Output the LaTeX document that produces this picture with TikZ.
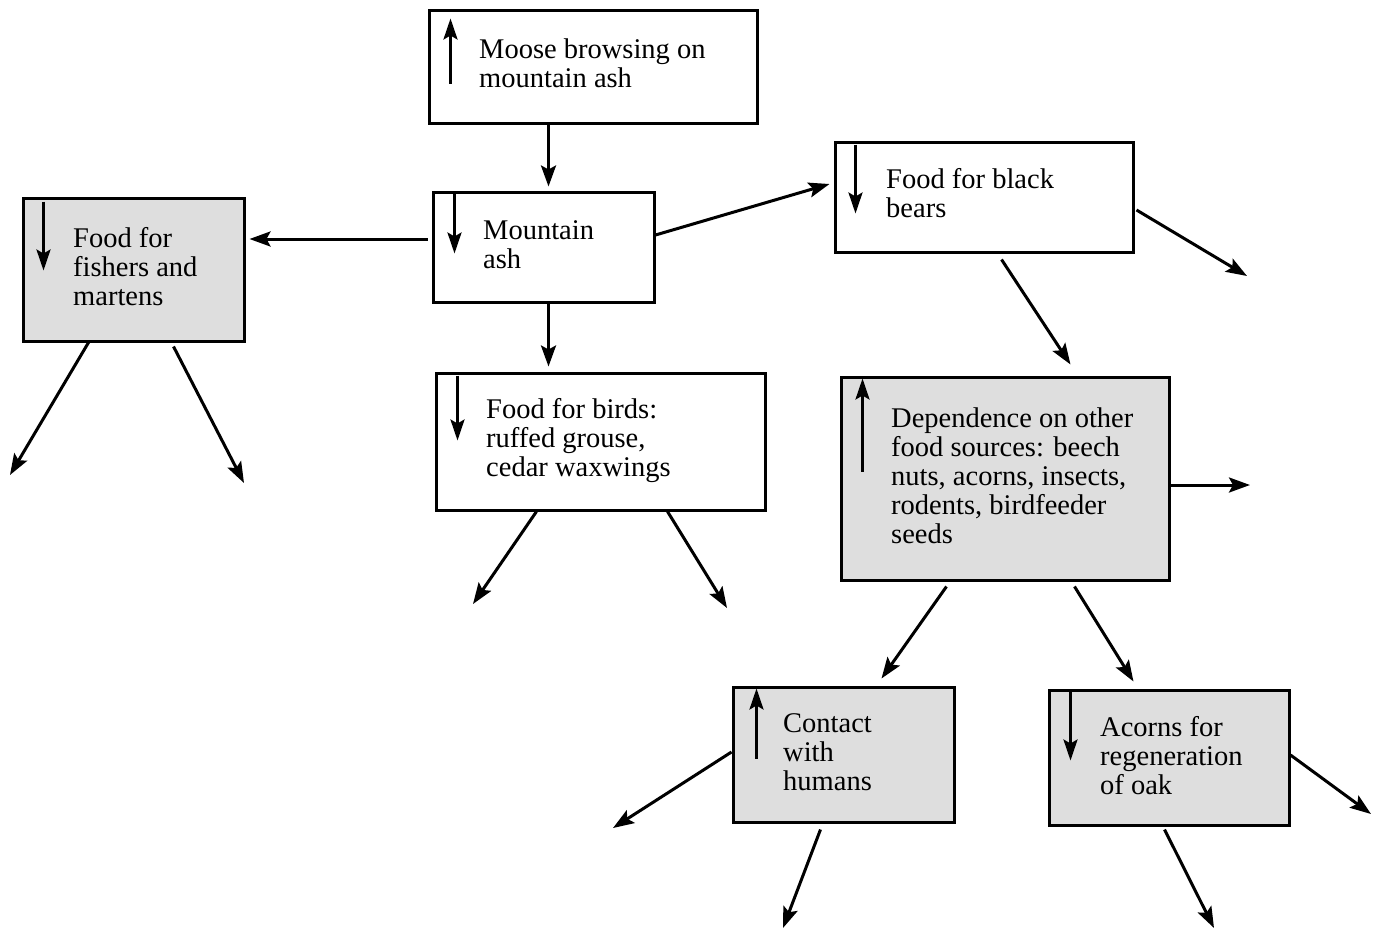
\documentclass[tikz,border=0pt]{standalone}
\usepackage{fontspec}
\setmainfont{Liberation Serif}
\usetikzlibrary{arrows.meta,calc}
\begin{document}
\begin{tikzpicture}[x=1pt,y=-1pt,
  box/.style={draw=black,line width=3pt,fill=white,inner sep=0pt},
  gbox/.style={box,fill=boxgray},
  txt/.style={anchor=base west,align=left,inner sep=0pt,font=\fontsize{28.5}{29}\selectfont},
  conn/.style={line width=3pt,-{Stealth[length=21pt,width=15pt,inset=4pt]}},
  inarr/.style={line width=2.8pt,-{Stealth[length=21pt,width=14pt,inset=4pt]}}]
\definecolor{boxgray}{HTML}{DEDEDE}
\useasboundingbox (0,0) rectangle (1374,932);
% boxes
\node[box,minimum width=328pt,minimum height=113pt] (moose) at (593,66.5) {};
\node[box,minimum width=221pt,minimum height=110pt] (ash) at (543.5,247) {};
\node[gbox,minimum width=221pt,minimum height=143pt] (fish) at (133.5,269.5) {};
\node[box,minimum width=329pt,minimum height=137pt] (birds) at (600.5,441.5) {};
\node[box,minimum width=298pt,minimum height=110pt] (bears) at (984,197) {};
\node[gbox,minimum width=328pt,minimum height=203pt] (dep) at (1005,478.5) {};
\node[gbox,minimum width=221pt,minimum height=135pt] (contact) at (843.5,754.5) {};
\node[gbox,minimum width=240pt,minimum height=135pt] (acorns) at (1169,757.5) {};
% texts (base anchor = baseline of last line)
\node[txt] (moosetxt) at (479,87) {Moose browsing on\\mountain ash};
\node[txt] (ashtxt) at (483,268) {Mountain\\ash};
\node[txt] (fishtxt) at (73,305) {Food for\\fishers and\\martens};
\node[txt] (birdstxt) at (486,476) {Food for birds:\\ruffed grouse,\\cedar waxwings};
\node[txt] (bearstxt) at (886,217) {Food for black\\bears};
\node[txt] (deptxt) at (891,543) {Dependence on other\\food sources: beech\\nuts, acorns, insects,\\rodents, birdfeeder\\seeds};
\node[txt] (contacttxt) at (783,790) {Contact\\with\\humans};
\node[txt] (acornstxt) at (1100,794) {Acorns for\\regeneration\\of oak};
% inner trend arrows
\draw[inarr] ($(moose.north west)+(23,75)$) -- ($(moose.north west)+(23,10)$);
\draw[inarr] ($(ash.north west)+(23,3)$) -- ($(ash.north west)+(23,63)$);
\draw[inarr] ($(fish.north west)+(22,5)$) -- ($(fish.north west)+(22,74)$);
\draw[inarr] ($(birds.north west)+(23,4)$) -- ($(birds.north west)+(23,69)$);
\draw[inarr] ($(bears.north west)+(22,4)$) -- ($(bears.north west)+(22,73)$);
\draw[inarr] ($(dep.north west)+(23,96)$) -- ($(dep.north west)+(23,3)$);
\draw[inarr] ($(contact.north west)+(25,73)$) -- ($(contact.north west)+(25,3)$);
\draw[inarr] ($(acorns.north west)+(23,3)$) -- ($(acorns.north west)+(23,72)$);
% free ends
\coordinate (f1) at (10,475);
\coordinate (f2) at (244,483);
\coordinate (b1) at (473,604);
\coordinate (b2) at (727,608);
\coordinate (br1) at (1247,276);
\coordinate (d1) at (1250,485);
\coordinate (c1) at (613,828);
\coordinate (c2) at (783,928);
\coordinate (a1) at (1371,814);
\coordinate (a2) at (1214,928);
% connectors
\draw[conn] ($(moose.south west)+(121,0)$) -- ($(ash.north west)+(117,-4)$);
\draw[conn] ($(ash.west)+(-4,-8)$) -- ($(fish.east)+(4,-30.5)$);
\draw[conn] ($(ash.east)+(0,-12)$) -- ($(bears.west)+(-4,-13)$);
\draw[conn] ($(ash.south west)+(117,0)$) -- ($(birds.north west)+(114,-5)$);
\draw[conn] ($(fish.south west)+(67,0)$) -- (f1);
\draw[conn] ($(fish.south west)+(152,4)$) -- (f2);
\draw[conn] ($(birds.south west)+(102,0)$) -- (b1);
\draw[conn] ($(birds.south west)+(233,0)$) -- (b2);
\draw[conn] ($(bears.east)+(2,13)$) -- (br1);
\draw[conn] ($(bears.south west)+(168,6)$) -- ($(dep.north west)+(231,-11)$);
\draw[conn] ($(dep.east)+(0,6.5)$) -- (d1);
\draw[conn] ($(dep.south west)+(107,5)$) -- ($(contact.north west)+(150,-7)$);
\draw[conn] ($(dep.south west)+(235,5)$) -- ($(acorns.north west)+(86,-7)$);
\draw[conn] ($(contact.west)+(0,-2.5)$) -- (c1);
\draw[conn] ($(contact.south west)+(89,6)$) -- (c2);
\draw[conn] ($(acorns.east)+(0,-2.5)$) -- (a1);
\draw[conn] ($(acorns.south west)+(117,3)$) -- (a2);
\end{tikzpicture}
\end{document}
